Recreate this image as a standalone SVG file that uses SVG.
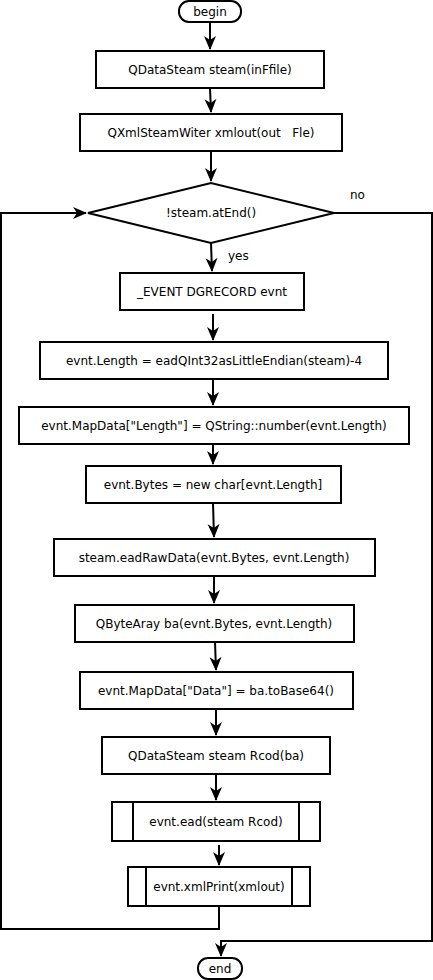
<svg xmlns="http://www.w3.org/2000/svg" width="433" height="980" viewBox="0 0 433 980">
<style>
.n{fill:#fff;stroke:#000;stroke-width:2}
.t{font-family:"DejaVu Sans",sans-serif;font-size:12px;fill:#000;text-anchor:middle;dominant-baseline:central;white-space:pre}
.c{fill:none;stroke:#000;stroke-width:2}
.l{font-family:"DejaVu Sans",sans-serif;font-size:12px;fill:#000}
</style>
<defs>
<marker id="ah" markerWidth="14" markerHeight="14" viewBox="0 0 14 14" refX="13" refY="7" orient="auto" markerUnits="userSpaceOnUse">
<path d="M0,1 L14,7 L0,13 L4,7 Z" fill="#000"/>
</marker>
</defs>
<rect width="433" height="980" fill="#fff"/>
<g id="connectors">
<path class="c" d="M210,22 L210,49" marker-end="url(#ah)"/>
<path class="c" d="M210,88 L211,112" marker-end="url(#ah)"/>
<path class="c" d="M211,151 L211,181" marker-end="url(#ah)"/>
<path class="c" d="M211,243 L212,271" marker-end="url(#ah)"/>
<path class="c" d="M213,314 L213,340" marker-end="url(#ah)"/>
<path class="c" d="M213,379 L213,405" marker-end="url(#ah)"/>
<path class="c" d="M213,444 L213,464" marker-end="url(#ah)"/>
<path class="c" d="M213,503 L214,537" marker-end="url(#ah)"/>
<path class="c" d="M214,576 L214,603" marker-end="url(#ah)"/>
<path class="c" d="M215,642 L216,670" marker-end="url(#ah)"/>
<path class="c" d="M216,709 L216,735" marker-end="url(#ah)"/>
<path class="c" d="M216,774 L216,800" marker-end="url(#ah)"/>
<path class="c" d="M219,845 L219,865" marker-end="url(#ah)"/>
<path class="c" d="M219,906 L219,929 L1,929 L1,213 L86,213" marker-end="url(#ah)"/>
<path class="c" d="M334,213 L432,213 L432,941 L221,941 L221,956" marker-end="url(#ah)"/>
<text class="l" x="350" y="199">no</text>
<text class="l" x="228" y="260">yes</text>
</g>
<g id="begin"><rect class="n" x="179" y="1" width="62" height="21" rx="10"/><text class="t" x="210" y="11.5">begin</text></g>
<g id="n1"><rect class="n" x="96" y="51" width="228" height="37"/><text class="t" x="210" y="69.5">QDataSteam steam(inFfile)</text></g>
<g id="n2"><rect class="n" x="80" y="114" width="262" height="37"/><text class="t" x="211" y="132.5" xml:space="preserve">QXmlSteamWiter xmlout(out   Fle)</text></g>
<g id="d1"><polygon class="n" points="88,213 211,183 334,213 211,243"/><text class="t" x="211" y="213">!steam.atEnd()</text></g>
<g id="n3"><rect class="n" x="120" y="273" width="184" height="37"/><text class="t" x="212" y="291.5">_EVENT DGRECORD evnt</text></g>
<g id="n4"><rect class="n" x="40" y="342" width="348" height="37"/><text class="t" x="214" y="360.5">evnt.Length = eadQInt32asLittleEndian(steam)-4</text></g>
<g id="n5"><rect class="n" x="19" y="407" width="390" height="37"/><text class="t" x="214" y="425.5">evnt.MapData["Length"] = QString::number(evnt.Length)</text></g>
<g id="n6"><rect class="n" x="86" y="466" width="255" height="37"/><text class="t" x="213" y="484.5">evnt.Bytes = new char[evnt.Length]</text></g>
<g id="n7"><rect class="n" x="54" y="539" width="321" height="37"/><text class="t" x="214" y="557.5">steam.eadRawData(evnt.Bytes, evnt.Length)</text></g>
<g id="n8"><rect class="n" x="75" y="605" width="279" height="37"/><text class="t" x="214" y="623.5">QByteAray ba(evnt.Bytes, evnt.Length)</text></g>
<g id="n9"><rect class="n" x="80" y="672" width="273" height="37"/><text class="t" x="216" y="690.5">evnt.MapData["Data"] = ba.toBase64()</text></g>
<g id="n10"><rect class="n" x="102" y="737" width="228" height="37"/><text class="t" x="216" y="755.5">QDataSteam steam Rcod(ba)</text></g>
<g id="n11"><rect class="n" x="112" y="802" width="208" height="39"/><line class="c" x1="133" y1="802" x2="133" y2="841"/><line class="c" x1="299" y1="802" x2="299" y2="841"/><text class="t" x="216" y="821.5">evnt.ead(steam Rcod)</text></g>
<g id="n12"><rect class="n" x="128" y="867" width="182" height="39"/><line class="c" x1="146" y1="867" x2="146" y2="906"/><line class="c" x1="292" y1="867" x2="292" y2="906"/><text class="t" x="219" y="886.5">evnt.xmlPrint(xmlout)</text></g>
<g id="end"><rect class="n" x="198" y="958" width="44" height="21" rx="10"/><text class="t" x="220" y="968.5">end</text></g>
</svg>
